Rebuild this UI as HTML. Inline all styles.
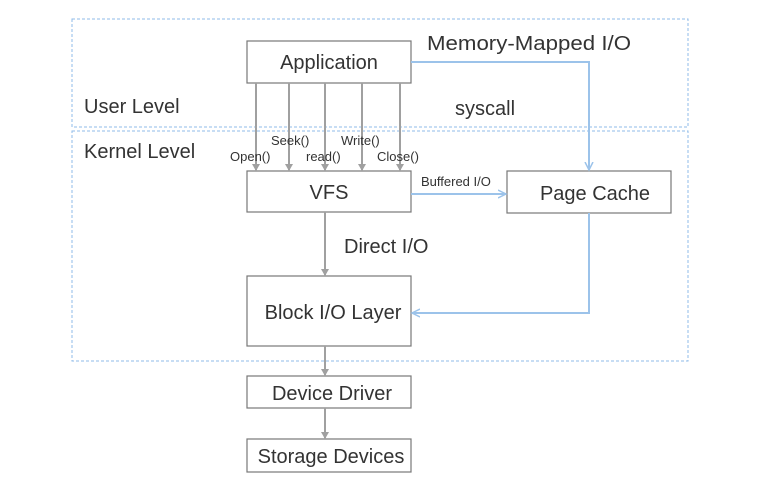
<!DOCTYPE html><html><head><style>body{margin:0;background:#fff}svg{display:block}text{font-family:"Liberation Sans",sans-serif;fill:#333}</style></head><body>
<svg width="767" height="484" viewBox="0 0 767 484">
<defs>
<marker id="g" markerWidth="8" markerHeight="8" refX="6" refY="4" orient="auto" markerUnits="userSpaceOnUse"><path d="M0,0 L7,4 L0,8 z" fill="#a0a0a0"/></marker>
<marker id="b" markerWidth="10" markerHeight="10" refX="8" refY="5" orient="auto" markerUnits="userSpaceOnUse"><path d="M0,1 L8,5 L0,9" fill="none" stroke="#9cc3ea" stroke-width="1.5"/></marker>
</defs>
<rect x="72" y="19" width="616" height="108" fill="none" stroke="#8fbbe8" stroke-dasharray="3,2"/>
<rect x="72" y="131" width="616" height="230" fill="none" stroke="#8fbbe8" stroke-dasharray="3,2"/>
<g fill="#fff" stroke="#777" stroke-width="1.2">
<rect x="247" y="41" width="164" height="42"/>
<rect x="247" y="171" width="164" height="41"/>
<rect x="507" y="171" width="164" height="42"/>
<rect x="247" y="276" width="164" height="70"/>
<rect x="247" y="376" width="164" height="32"/>
<rect x="247" y="439" width="164" height="33"/>
</g>
<g stroke="#a0a0a0" stroke-width="2" marker-end="url(#g)">
<line x1="256" y1="83" x2="256" y2="170"/><line x1="289" y1="83" x2="289" y2="170"/><line x1="325" y1="83" x2="325" y2="170"/><line x1="362" y1="83" x2="362" y2="170"/><line x1="400" y1="83" x2="400" y2="170"/>
<line x1="325" y1="212" x2="325" y2="275"/><line x1="325" y1="346" x2="325" y2="375"/><line x1="325" y1="408" x2="325" y2="438"/>
</g>
<g stroke="#9cc3ea" stroke-width="2" fill="none" marker-end="url(#b)">
<polyline points="411,62 589,62 589,170"/>
<line x1="411" y1="194" x2="506" y2="194"/>
<polyline points="589,213 589,313 412,313"/>
</g>
<g font-size="20">
<text x="329" y="69" text-anchor="middle">Application</text>
<text x="329" y="199" text-anchor="middle">VFS</text>
<text x="595" y="200" text-anchor="middle">Page Cache</text>
<text x="333" y="319" text-anchor="middle">Block I/O Layer</text>
<text x="332" y="400" text-anchor="middle">Device Driver</text>
<text x="331" y="463" text-anchor="middle">Storage Devices</text>
<text x="427" y="50" textLength="204" lengthAdjust="spacingAndGlyphs">Memory-Mapped I/O</text>
<text x="455" y="115">syscall</text>
<text x="84" y="113">User Level</text>
<text x="84" y="158">Kernel Level</text>
<text x="344" y="253">Direct I/O</text>
</g>
<g font-size="13">
<text x="230" y="161">Open()</text><text x="271" y="145">Seek()</text><text x="306" y="161">read()</text><text x="341" y="145">Write()</text><text x="377" y="161">Close()</text>
<text x="421" y="186">Buffered I/O</text>
</g>
</svg></body></html>
